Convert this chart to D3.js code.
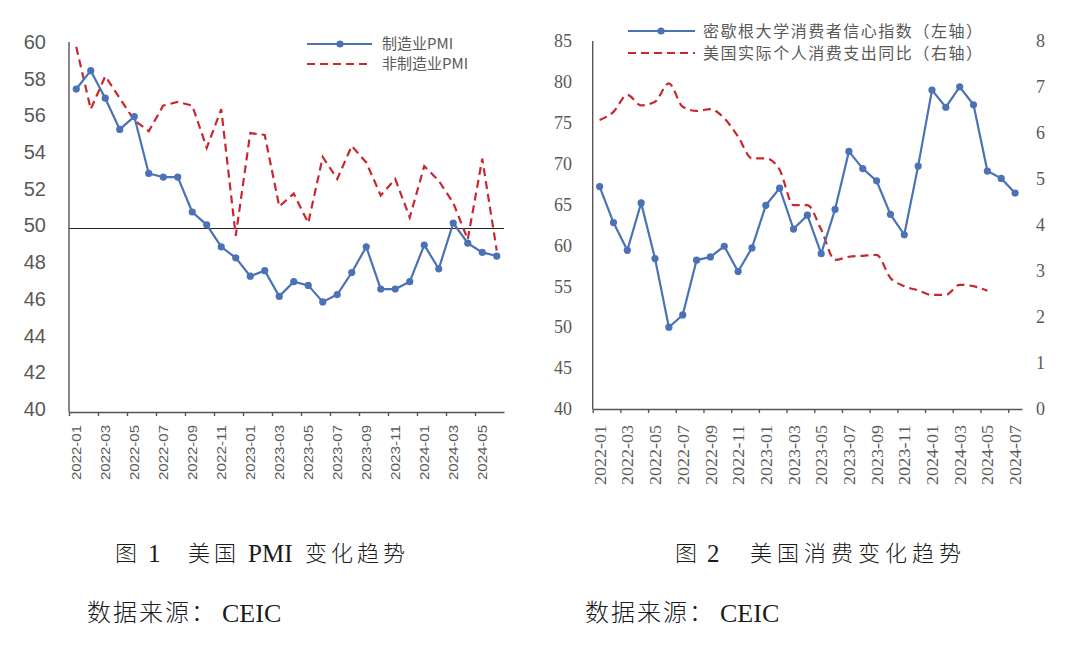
<!DOCTYPE html>
<html>
<head>
<meta charset="utf-8">
<script src="https://cdn.jsdelivr.net/npm/d3@7"></script>
<style>
  body { margin: 0; background: #fff; }
  svg { display: block; }
</style>
</head>
<body>
<div class="container"></div>
<script>
// ---- data: figure 1, US PMI ----
const pmiMonths = ["2022-01","2022-02","2022-03","2022-04","2022-05","2022-06","2022-07","2022-08","2022-09","2022-10","2022-11","2022-12",
                   "2023-01","2023-02","2023-03","2023-04","2023-05","2023-06","2023-07","2023-08","2023-09","2023-10","2023-11","2023-12",
                   "2024-01","2024-02","2024-03","2024-04","2024-05","2024-06"]
const mfgPmi = [57.6, 58.6, 57.1, 55.4, 56.1, 53.0, 52.8, 52.8, 50.9, 50.2, 49.0, 48.4,
                47.4, 47.7, 46.3, 47.1, 46.9, 46.0, 46.4, 47.6, 49.0, 46.7, 46.7, 47.1,
                49.1, 47.8, 50.3, 49.2, 48.7, 48.5]
const nonMfgPmi = [59.9, 56.5, 58.3, 57.1, 55.9, 55.3, 56.7, 56.9, 56.7, 54.4, 56.5, 49.6,
                   55.2, 55.1, 51.2, 51.9, 50.3, 53.9, 52.7, 54.5, 53.6, 51.8, 52.7, 50.6,
                   53.4, 52.6, 51.4, 49.4, 53.8, 48.8]
const pmiTicks = [40, 42, 44, 46, 48, 50, 52, 54, 56, 58, 60]
const pmiRef = 50
const pmiNames = ["制造业PMI", "非制造业PMI"]

// ---- data: figure 2, US consumption ----
const conMonths = ["2022-01","2022-02","2022-03","2022-04","2022-05","2022-06","2022-07","2022-08","2022-09","2022-10","2022-11","2022-12",
                   "2023-01","2023-02","2023-03","2023-04","2023-05","2023-06","2023-07","2023-08","2023-09","2023-10","2023-11","2023-12",
                   "2024-01","2024-02","2024-03","2024-04","2024-05","2024-06","2024-07"]
const sentiment = [67.2, 62.8, 59.4, 65.2, 58.4, 50.0, 51.5, 58.2, 58.6, 59.9, 56.8, 59.7,
                   64.9, 67.0, 62.0, 63.7, 59.0, 64.4, 71.5, 69.4, 67.9, 63.8, 61.3, 69.7,
                   79.0, 76.9, 79.4, 77.2, 69.1, 68.2, 66.4]
const pceYoy = [6.28, 6.46, 6.83, 6.60, 6.68, 7.08, 6.57, 6.48, 6.52, 6.32, 5.92, 5.45,
                5.45, 5.20, 4.43, 4.43, 3.90, 3.24, 3.31, 3.33, 3.35, 2.85, 2.67, 2.58,
                2.48, 2.48, 2.70, 2.67, 2.57]
const sentTicks = [40, 45, 50, 55, 60, 65, 70, 75, 80, 85]
const pceTicks = [0, 1, 2, 3, 4, 5, 6, 7, 8]
const conNames = ["密歇根大学消费者信心指数（左轴）", "美国实际个人消费支出同比（右轴）"]

const w = 1080
const h = 654
const blue = "#4a72b5"
const red = "#c8282d"
const grey = "#595959"
const axisCol = "#555"

const svg = d3.select(".container")
              .append("svg")
              .attr("width", w)
              .attr("height", h)

svg.append("rect").attr("width", w).attr("height", h).attr("fill", "#fff")

// draws the category x axis: tick marks on every second boundary, labels on every second month
function monthAxis(g, xIdx, months, y, labelFont, labelSize, labelGap, labelLen) {
    const n = months.length
    const ticks = g.append("g")
                   .attr("transform", `translate(0, ${y})`)
                   .call(d3.axisBottom(xIdx)
                           .tickValues(d3.range(0, n + 1, 2).filter(v => v < n))
                           .tickFormat("")
                           .tickSize(4)
                           .tickSizeOuter(0))
    ticks.select(".domain").attr("stroke", axisCol).attr("stroke-width", 1.4)
    ticks.selectAll(".tick line").attr("stroke", axisCol).attr("stroke-width", 1.4)

    const labels = g.append("g")
                    .attr("transform", `translate(0, ${y})`)
                    .call(d3.axisBottom(xIdx)
                            .tickValues(d3.range(0, n, 2).map(i => i + 0.5))
                            .tickFormat(v => months[Math.floor(v)])
                            .tickSize(0))
    labels.select(".domain").remove()
    labels.selectAll(".tick text")
          .attr("transform", "rotate(-90)")
          .attr("text-anchor", "end")
          .attr("x", -labelGap)
          .attr("y", 0)
          .attr("dy", "0.35em")
          .attr("fill", grey)
          .attr("font-family", labelFont)
          .attr("font-size", labelSize)
          .attr("textLength", labelLen)
          .attr("lengthAdjust", "spacingAndGlyphs")
}

function styleY(sel, font, size, anchor) {
    sel.select(".domain").remove()
    sel.selectAll(".tick text")
       .attr("fill", grey)
       .attr("font-family", font)
       .attr("font-size", size)
       .attr("text-anchor", anchor)
}

// ================= Figure 1 =================
const L = { x0: 69, x1: 504, top: 45, bottom: 412 }
const g1 = svg.append("g")

const x1Idx = d3.scaleLinear().domain([0, pmiMonths.length]).range([L.x0, L.x1])
const y1 = d3.scaleLinear().domain([40, 60]).range([L.bottom, L.top])

g1.append("g")
  .attr("transform", `translate(46, -3)`)
  .call(d3.axisLeft(y1).tickValues(pmiTicks).tickSize(0).tickPadding(0))
  .call(s => styleY(s, "Liberation Sans, Arial, sans-serif", 20, "end"))

// 50 reference line
g1.append("line")
  .attr("x1", L.x0).attr("x2", L.x1)
  .attr("y1", y1(pmiRef)).attr("y2", y1(pmiRef))
  .attr("stroke", "#222").attr("stroke-width", 1.1)

g1.append("line")
  .attr("x1", L.x0).attr("x2", L.x0)
  .attr("y1", 42).attr("y2", L.bottom)
  .attr("stroke", axisCol).attr("stroke-width", 1.4)

monthAxis(g1, x1Idx, pmiMonths, L.bottom, "Liberation Sans, Arial, sans-serif", 13, 13, 55)

const line1 = d3.line().x((d, i) => x1Idx(i + 0.5)).y(d => y1(d))

g1.append("path")
  .datum(nonMfgPmi)
  .attr("d", line1)
  .attr("fill", "none")
  .attr("stroke", red)
  .attr("stroke-width", 2.2)
  .attr("stroke-dasharray", "8,5")

g1.append("path")
  .datum(mfgPmi)
  .attr("d", line1)
  .attr("fill", "none")
  .attr("stroke", blue)
  .attr("stroke-width", 2.2)

g1.selectAll("circle.mfg")
  .data(mfgPmi)
  .enter()
  .append("circle")
  .attr("class", "mfg")
  .attr("cx", (d, i) => x1Idx(i + 0.5))
  .attr("cy", d => y1(d))
  .attr("r", 3.6)
  .attr("fill", blue)

// legend 1
const leg1 = g1.append("g")
leg1.append("line").attr("x1", 307).attr("x2", 372).attr("y1", 44).attr("y2", 44)
    .attr("stroke", blue).attr("stroke-width", 2.2)
leg1.append("circle").attr("cx", 340).attr("cy", 44).attr("r", 3.6).attr("fill", blue)
leg1.append("line").attr("x1", 307).attr("x2", 372).attr("y1", 64).attr("y2", 64)
    .attr("stroke", red).attr("stroke-width", 2.2).attr("stroke-dasharray", "8,5")
leg1.selectAll("text")
    .data(pmiNames)
    .enter()
    .append("text")
    .attr("x", 382)
    .attr("y", (d, i) => 44 + i * 20)
    .attr("dy", "0.35em")
    .attr("fill", grey)
    .attr("font-family", "Noto Sans CJK SC, sans-serif")
    .attr("font-size", 15)
    .text(d => d)

// ================= Figure 2 =================
const R = { x0: 592.7, x1: 1022, top: 41, bottom: 409 }
const g2 = svg.append("g")

const x2Idx = d3.scaleLinear().domain([0, conMonths.length]).range([R.x0, R.x1])
const y2L = d3.scaleLinear().domain([40, 85]).range([R.bottom, R.top])
const y2R = d3.scaleLinear().domain([0, 8]).range([R.bottom, R.top])

g2.append("g")
  .attr("transform", `translate(572, 0)`)
  .call(d3.axisLeft(y2L).tickValues(sentTicks).tickSize(0).tickPadding(0))
  .call(s => styleY(s, "Liberation Serif, Times New Roman, serif", 18, "end"))

g2.append("g")
  .attr("transform", `translate(1036, 0)`)
  .call(d3.axisRight(y2R).tickValues(pceTicks).tickSize(0).tickPadding(0))
  .call(s => styleY(s, "Liberation Serif, Times New Roman, serif", 18, "start"))

g2.append("line")
  .attr("x1", R.x0).attr("x2", R.x0)
  .attr("y1", R.top).attr("y2", R.bottom)
  .attr("stroke", axisCol).attr("stroke-width", 1.4)

monthAxis(g2, x2Idx, conMonths, R.bottom, "Liberation Serif, Times New Roman, serif", 16, 16, 60)

const line2L = d3.line().x((d, i) => x2Idx(i + 0.5)).y(d => y2L(d))
const line2R = d3.line().x((d, i) => x2Idx(i + 0.5)).y(d => y2R(d)).curve(d3.curveMonotoneX)

g2.append("path")
  .datum(pceYoy)
  .attr("d", line2R)
  .attr("fill", "none")
  .attr("stroke", red)
  .attr("stroke-width", 2.2)
  .attr("stroke-dasharray", "8,5")

g2.append("path")
  .datum(sentiment)
  .attr("d", line2L)
  .attr("fill", "none")
  .attr("stroke", blue)
  .attr("stroke-width", 2.2)

g2.selectAll("circle.sent")
  .data(sentiment)
  .enter()
  .append("circle")
  .attr("class", "sent")
  .attr("cx", (d, i) => x2Idx(i + 0.5))
  .attr("cy", d => y2L(d))
  .attr("r", 3.6)
  .attr("fill", blue)

// legend 2
const leg2 = g2.append("g")
leg2.append("line").attr("x1", 628).attr("x2", 695).attr("y1", 31).attr("y2", 31)
    .attr("stroke", blue).attr("stroke-width", 2.2)
leg2.append("circle").attr("cx", 661).attr("cy", 31).attr("r", 3.6).attr("fill", blue)
leg2.append("line").attr("x1", 628).attr("x2", 695).attr("y1", 53).attr("y2", 53)
    .attr("stroke", red).attr("stroke-width", 2.2).attr("stroke-dasharray", "8,5")
leg2.selectAll("text")
    .data(conNames)
    .enter()
    .append("text")
    .attr("x", 703)
    .attr("y", (d, i) => 31 + i * 22)
    .attr("dy", "0.35em")
    .attr("fill", grey)
    .attr("font-family", "Noto Sans CJK SC, sans-serif")
    .attr("font-size", 16)
    .attr("textLength", 279)
    .text(d => d)

// ================= captions =================
// each caption is split into CJK and Latin parts, placed at the x read off the picture
const cjkFont = "Noto Sans CJK SC, sans-serif"
const latFont = "Liberation Serif, Times New Roman, serif"
const captionParts = [
    { t: "图", x: 115, y: 553, size: 22, cjk: true },
    { t: "1", x: 148, y: 553, size: 25, cjk: false },
    { t: "美国", x: 188, y: 553, size: 22, cjk: true },
    { t: "PMI", x: 248, y: 553, size: 25, cjk: false },
    { t: "变化趋势", x: 305, y: 553, size: 22, cjk: true },
    { t: "数据来源：", x: 87, y: 613, size: 24, cjk: true },
    { t: "CEIC", x: 222, y: 613, size: 26, cjk: false },
    { t: "图", x: 675, y: 553, size: 22, cjk: true },
    { t: "2", x: 707, y: 553, size: 25, cjk: false },
    { t: "美国消费变化趋势", x: 750, y: 553, size: 22, cjk: true },
    { t: "数据来源：", x: 585, y: 613, size: 24, cjk: true },
    { t: "CEIC", x: 720, y: 613, size: 26, cjk: false }
]
svg.selectAll("text.cap")
   .data(captionParts)
   .enter()
   .append("text")
   .attr("class", "cap")
   .attr("x", d => d.x)
   .attr("y", d => d.y)
   .attr("dy", "0.35em")
   .attr("fill", "#1a1a1a")
   .attr("font-family", d => d.cjk ? cjkFont : latFont)
   .attr("font-weight", d => d.cjk ? 300 : 400)
   .attr("font-size", d => d.size)
   .attr("letter-spacing", d => d.cjk ? (d.t.length > 4 && d.size === 22 ? 5 : (d.size === 24 ? 2 : 4)) : 0)
   .text(d => d.t)
</script>
</body>
</html>
